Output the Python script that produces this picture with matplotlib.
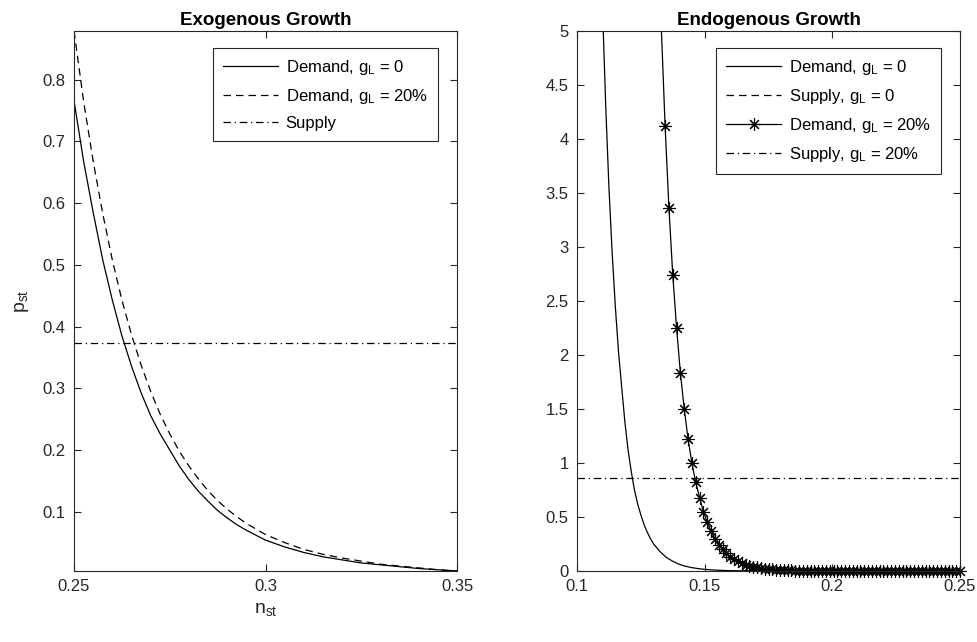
import numpy as np
import matplotlib
matplotlib.use("Agg")
import matplotlib.pyplot as plt
from matplotlib.lines import Line2D
from matplotlib.ticker import FormatStrFormatter

plt.rcParams['font.family'] = ['Liberation Sans', 'DejaVu Sans']
plt.rcParams['mathtext.fontset'] = 'custom'
plt.rcParams['mathtext.rm'] = 'Liberation Sans'
plt.rcParams['mathtext.it'] = 'Liberation Sans:italic'

AX_COLOR = '0.15'

# ---- Exogenous growth (left) ----
n_exo = [0.25, 0.2525, 0.255, 0.2575, 0.26, 0.2625, 0.265, 0.2675, 0.27,
         0.2725, 0.275, 0.2775, 0.28, 0.2825, 0.285, 0.2875, 0.29, 0.2925,
         0.295, 0.2975, 0.30, 0.305, 0.31, 0.315, 0.32, 0.325, 0.33, 0.335,
         0.34, 0.345, 0.35]
demand_exo_g0 = [0.766, 0.668, 0.585, 0.508, 0.443, 0.385, 0.336, 0.293, 0.256,
                 0.226, 0.200, 0.174, 0.152, 0.133, 0.117, 0.102, 0.090, 0.079,
                 0.070, 0.062, 0.054, 0.043, 0.034, 0.027, 0.022, 0.017, 0.014,
                 0.011, 0.008, 0.006, 0.004]
demand_exo_g20 = [0.879, 0.765, 0.668, 0.583, 0.508, 0.443, 0.387, 0.338, 0.295,
                  0.258, 0.226, 0.198, 0.174, 0.153, 0.134, 0.118, 0.104, 0.092,
                  0.081, 0.072, 0.063, 0.050, 0.039, 0.031, 0.025, 0.020, 0.015,
                  0.012, 0.009, 0.006, 0.004]
supply_exo = 0.374

# ---- Endogenous growth (right) ----
n_endo_g0 = [0.100, 0.1025, 0.105, 0.1075, 0.110, 0.11125, 0.1125, 0.11375,
             0.115, 0.11625, 0.1175, 0.11875, 0.120, 0.12125, 0.1225, 0.12375,
             0.125, 0.12625, 0.1275, 0.12875, 0.130, 0.1325, 0.135, 0.1375,
             0.140, 0.1425, 0.145, 0.1475, 0.150, 0.155, 0.160, 0.170, 0.180,
             0.200, 0.250]
demand_endo_g0 = [22.0, 15.0, 10.3, 7.2, 5.2, 4.3, 3.55, 2.95,
                  2.45, 2.03, 1.70, 1.38, 1.12, 0.92, 0.75, 0.62,
                  0.52, 0.43, 0.36, 0.30, 0.25, 0.18, 0.125, 0.09,
                  0.062, 0.044, 0.031, 0.022, 0.015, 0.007, 0.003, 0.001, 0.0,
                  0.0, 0.0]
demand_endo_g20 = [5.04, 4.12, 3.36, 2.74, 2.25, 1.83, 1.50, 1.22, 1.00, 0.82,
                   0.68, 0.55, 0.45, 0.37, 0.30, 0.245, 0.200, 0.164, 0.134, 0.109,
                   0.089, 0.073, 0.060, 0.049, 0.040, 0.033, 0.027, 0.022, 0.018, 0.015,
                   0.012, 0.010, 0.008, 0.0065, 0.0053, 0.0043, 0.0035, 0.0029, 0.0024,
                   0.0019, 0.0016, 0.0013, 0.0011, 0.0009, 0.0007, 0.0006, 0.0005,
                   0.0004, 0.0003, 0.0003, 0.0002, 0.0002, 0.0001, 0.0001,
                   0.0, 0.0, 0.0, 0.0, 0.0, 0.0, 0.0, 0.0, 0.0, 0.0, 0.0, 0.0, 0.0,
                   0.0, 0.0, 0.0, 0.0, 0.0, 0.0, 0.0, 0.0, 0.0, 0.0, 0.0, 0.0]
n_endo_g20 = np.linspace(0.133, 0.25, len(demand_endo_g20))
supply_endo_g0 = 5.6   # lies above the plotted range
supply_endo_g20 = 0.864

STAR = (8, 2, 0)
LW = 0.9
FS = 12
DASH = (6, 4)
DASHDOT = (6, 3, 1, 3)


def style_axes(ax):
    for s in ax.spines.values():
        s.set_color(AX_COLOR)
        s.set_linewidth(0.8)
    ax.tick_params(direction='in', top=True, right=True, length=5,
                   width=0.8, color=AX_COLOR, labelcolor=AX_COLOR,
                   labelsize=FS, pad=6)


def add_legend(ax, handles, labels):
    leg = ax.legend(handles, labels, loc='upper right', fontsize=FS,
                    handlelength=3.3, labelspacing=0.6, borderpad=0.6,
                    handletextpad=0.45, borderaxespad=0, numpoints=1,
                    fancybox=False, framealpha=1, edgecolor=AX_COLOR,
                    bbox_to_anchor=(0.950, 0.968))
    leg.get_frame().set_linewidth(0.8)
    return leg


fig = plt.figure(figsize=(9.78, 6.42), dpi=100)
ax1 = fig.add_axes([0.0757, 0.1106, 0.3916, 0.8411])
ax2 = fig.add_axes([0.590, 0.1106, 0.3916, 0.8411])

# left panel
l1, = ax1.plot(n_exo, demand_exo_g0, '-', color='k', lw=LW)
l2, = ax1.plot(n_exo, demand_exo_g20, '--', color='k', lw=LW, dashes=DASH)
l3, = ax1.plot([n_exo[0], n_exo[-1]], [supply_exo, supply_exo], '-.', color='k',
               lw=LW, dashes=DASHDOT)
ax1.set_xlim(0.25, 0.35)
ax1.set_ylim(min(demand_exo_g0), max(demand_exo_g20))
ax1.set_xticks([0.25, 0.3, 0.35])
ax1.set_yticks([0.1, 0.2, 0.3, 0.4, 0.5, 0.6, 0.7, 0.8])
ax1.xaxis.set_major_formatter(FormatStrFormatter('%g'))
ax1.yaxis.set_major_formatter(FormatStrFormatter('%g'))
style_axes(ax1)
ax1.set_title('Exogenous Growth', fontsize=13.5, fontweight='bold', pad=4)
ax1.set_xlabel('n$_\\mathregular{st}$', fontsize=14, color=AX_COLOR, labelpad=5)
ax1.set_ylabel('p$_\\mathregular{st}$', fontsize=14, color=AX_COLOR, labelpad=8)
add_legend(ax1, [l1, l2, l3],
           ['Demand, g$_\\mathregular{L}$ = 0', 'Demand, g$_\\mathregular{L}$ = 20%', 'Supply'])

# right panel
ax2.plot(n_endo_g0, demand_endo_g0, '-', color='k', lw=LW)
ax2.plot([0.1, 0.25], [supply_endo_g0, supply_endo_g0], '--', color='k', lw=LW, dashes=DASH)
ax2.plot(n_endo_g20, demand_endo_g20, '-', color='k', lw=LW)
d20 = np.array(demand_endo_g20)
ax2.plot(n_endo_g20[d20 <= 5], d20[d20 <= 5], ls='none', marker=STAR, ms=9,
         mec='k', mew=0.8, clip_on=False)
ax2.plot([0.1, 0.25], [supply_endo_g20, supply_endo_g20], '-.', color='k', lw=LW,
         dashes=DASHDOT)
ax2.set_xlim(0.1, 0.25)
ax2.set_ylim(0, 5)
ax2.set_xticks([0.1, 0.15, 0.2, 0.25])
ax2.set_yticks(np.arange(0, 5.01, 0.5))
ax2.xaxis.set_major_formatter(FormatStrFormatter('%g'))
ax2.yaxis.set_major_formatter(FormatStrFormatter('%g'))
style_axes(ax2)
ax2.set_title('Endogenous Growth', fontsize=13.5, fontweight='bold', pad=4)

handles = [
    Line2D([], [], color='k', lw=LW, ls='-'),
    Line2D([], [], color='k', lw=LW, ls='--', dashes=DASH),
    Line2D([], [], color='k', lw=LW, ls='-', marker=STAR, ms=9, mew=0.8),
    Line2D([], [], color='k', lw=LW, ls='-.', dashes=DASHDOT),
]
labels = ['Demand, g$_\\mathregular{L}$ = 0', 'Supply, g$_\\mathregular{L}$ = 0',
          'Demand, g$_\\mathregular{L}$ = 20%', 'Supply, g$_\\mathregular{L}$ = 20%']
add_legend(ax2, handles, labels)

fig.savefig('out.png', dpi=100)
